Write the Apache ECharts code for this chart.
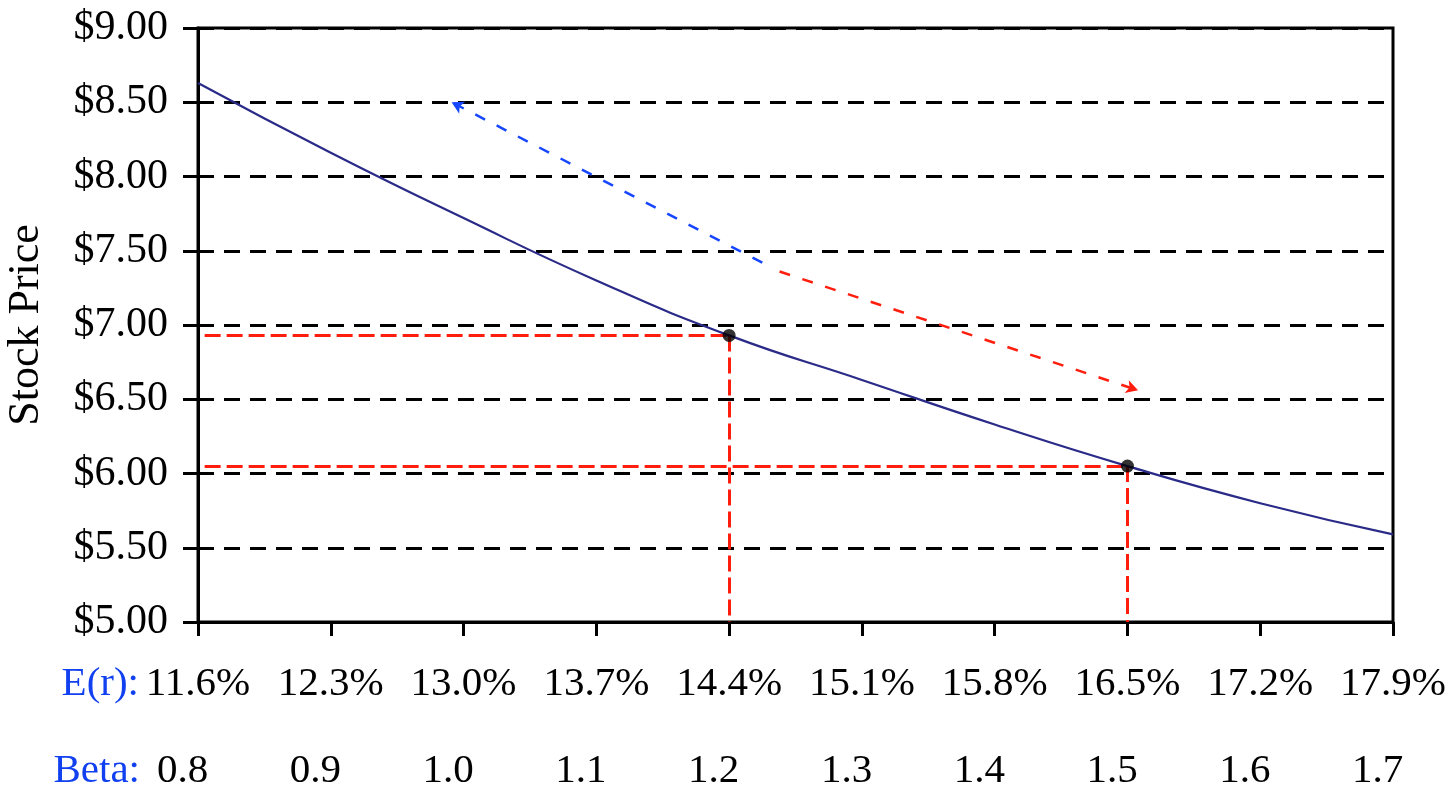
<!DOCTYPE html>
<html>
<head>
<meta charset="utf-8">
<script src="https://cdn.jsdelivr.net/npm/echarts@6/dist/echarts.min.js"></script>
<style>
html,body{margin:0;padding:0;background:#fff;}
#chart{width:1453px;height:790px;}
</style>
</head>
<body>
<div id="chart"></div>
<script>
// ---- data ----
const erLabels = ['11.6%','12.3%','13.0%','13.7%','14.4%','15.1%','15.8%','16.5%','17.2%','17.9%'];
const betaLabels = ['0.8','0.9','1.0','1.1','1.2','1.3','1.4','1.5','1.6','1.7'];
const prices = [8.63, 8.16, 7.72, 7.30, 6.93, 6.63, 6.33, 6.05, 5.80, 5.59];
const yTicks = [5.0, 5.5, 6.0, 6.5, 7.0, 7.5, 8.0, 8.5, 9.0];
const markedIdx = [4, 7];
const blueArrow = [[4.25, 7.42], [1.91, 8.50]];
const redArrow = [[4.38, 7.36], [7.08, 6.56]];
const refStartX = 0.05;
const refBottomY = 5.0;

const curveData = prices.map((p, i) => [i, p]);
const markedData = markedIdx.map(i => [i, prices[i]]);

const serif = 'Liberation Serif, Times New Roman, serif';
const RED = '#ff1e0e';
const BLUE = '#1646ff';
const LABEL_BLUE = '#1040f0';

const refLines = [];
markedIdx.forEach(i => {
  refLines.push([{coord: [refStartX, prices[i]]}, {coord: [i, prices[i]]}]);
  refLines.push([{coord: [i, prices[i]]}, {coord: [i, refBottomY]}]);
});

const chart = echarts.init(document.getElementById('chart'), null, {renderer: 'canvas'});
const xBase = {
  type: 'value', min: 0, max: 9, interval: 1,
  splitLine: {show: false}
};
chart.setOption({
  animation: false,
  backgroundColor: '#fff',
  grid: {left: 198, top: 28, right: 60, bottom: 168, containLabel: false, outerBoundsMode: 'none',
    show: true, borderColor: '#000', borderWidth: 3, backgroundColor: 'transparent'},
  xAxis: [
    Object.assign({}, xBase, {
      position: 'bottom',
      name: 'E(r):',
      nameLocation: 'start',
      nameGap: 59,
      nameMoveOverlap: false,
      nameTextStyle: {color: LABEL_BLUE, fontFamily: serif, fontSize: 41, lineHeight: 41, verticalAlign: 'top', padding: [42, 0, 0, 0]},
      axisLine: {show: true, onZero: false, lineStyle: {color: '#000', width: 3}},
      axisTick: {show: true, length: 14, lineStyle: {color: '#000', width: 3}},
      axisLabel: {margin: 42, color: '#000', fontFamily: serif, fontSize: 41, lineHeight: 41,
        formatter: v => erLabels[Math.round(v)] || ''}
    }),
    Object.assign({}, xBase, {
      position: 'bottom',
      offset: 87,
      name: 'Beta:',
      nameLocation: 'start',
      nameGap: 58,
      nameMoveOverlap: false,
      nameTextStyle: {color: LABEL_BLUE, fontFamily: serif, fontSize: 41, lineHeight: 41, verticalAlign: 'top', padding: [42, 0, 0, 0]},
      axisLine: {show: false},
      axisTick: {show: false},
      axisLabel: {margin: 42, color: '#000', fontFamily: serif, fontSize: 41, lineHeight: 41,
        formatter: v => (betaLabels[Math.round(v)] || '') + '   '}
    })
  ],
  yAxis: {
    type: 'value', min: yTicks[0], max: yTicks[yTicks.length - 1], interval: 0.5,
    name: 'Stock Price',
    nameLocation: 'middle',
    nameGap: 150,
    nameMoveOverlap: false,
    nameTextStyle: {color: '#000', fontFamily: serif, fontSize: 44},
    axisLine: {show: true, lineStyle: {color: '#000', width: 3}},
    axisTick: {show: true, length: 15, lineStyle: {color: '#000', width: 3}},
    axisLabel: {margin: 30, color: '#000', fontFamily: serif, fontSize: 42,
      formatter: v => '$' + v.toFixed(2)},
    splitLine: {show: true, lineStyle: {color: '#000', width: 3, type: [16, 10]}}
  },
  series: [
    {
      type: 'line',
      xAxisIndex: 0,
      data: curveData,
      smooth: true,
      showSymbol: false,
      silent: true,
      lineStyle: {color: '#2a2a88', width: 2.2},
      z: 3,
      markLine: {
        silent: true,
        symbol: ['none', 'none'],
        label: {show: false},
        lineStyle: {color: RED, width: 3, type: [16, 6]},
        data: refLines,
        z: 2
      }
    },
    {
      type: 'line',
      xAxisIndex: 0,
      data: [],
      silent: true,
      markLine: {
        silent: true,
        symbol: ['none', 'arrow'],
        symbolSize: [10, 12],
        label: {show: false},
        data: [
          [{coord: blueArrow[0], lineStyle: {color: BLUE, width: 2.5, type: [11, 13]}}, {coord: blueArrow[1], symbol: 'arrow'}],
          [{coord: redArrow[0], lineStyle: {color: RED, width: 2.5, type: [11, 13]}}, {coord: redArrow[1], symbol: 'arrow'}]
        ]
      }
    },
    {
      type: 'scatter',
      xAxisIndex: 0,
      data: markedData,
      symbol: 'circle',
      symbolSize: 13,
      silent: true,
      itemStyle: {color: '#000'},
      z: 5
    }
  ]
});
</script>
</body>
</html>
